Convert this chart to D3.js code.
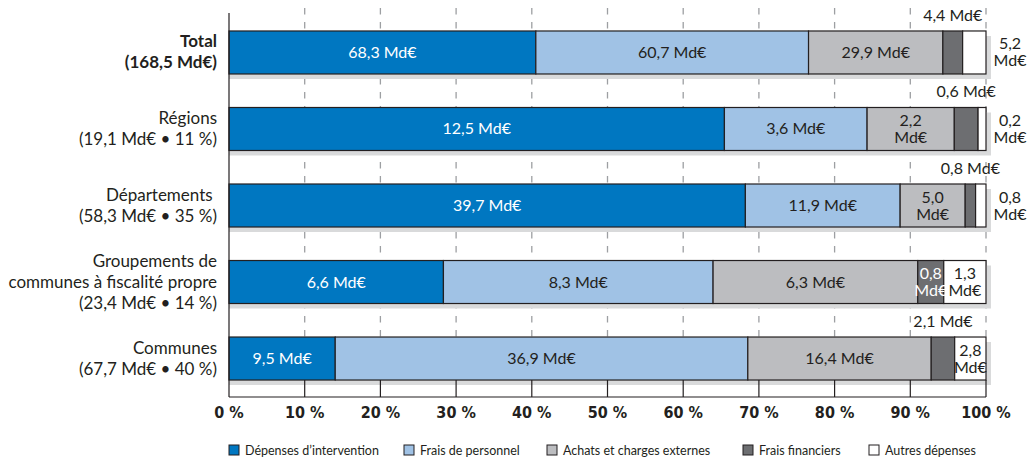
<!DOCTYPE html>
<html><head><meta charset="utf-8">
<script src="https://cdn.jsdelivr.net/npm/d3@7"></script>
<style>body{margin:0;background:#fff;} svg{display:block;}</style>
</head><body>
<div id="chart"></div>
<script>
// ---- data ----
const categories = ["Total", "Régions", "Départements", "Groupements", "Communes"];
const categoryLabels = [
  ["Total", "(168,5 Md€)"],
  ["Régions", "(19,1 Md€ • 11 %)"],
  ["Départements ", "(58,3 Md€ • 35 %)"],
  ["Groupements de", "communes à fiscalité propre", "(23,4 Md€ • 14 %)"],
  ["Communes", "(67,7 Md€ • 40 %)"]
];
const seriesNames = ["Dépenses d’intervention", "Frais de personnel", "Achats et charges externes", "Frais financiers", "Autres dépenses"];
const depensesIntervention = [68.3, 12.5, 39.7, 6.6, 9.5];
const fraisPersonnel = [60.7, 3.6, 11.9, 8.3, 36.9];
const achatsCharges = [29.9, 2.2, 5.0, 6.3, 16.4];
const fraisFinanciers = [4.4, 0.6, 0.8, 0.8, 2.1];
const autresDepenses = [5.2, 0.2, 0.8, 1.3, 2.8];
const tickLabels = ["0 %", "10 %", "20 %", "30 %", "40 %", "50 %", "60 %", "70 %", "80 %", "90 %", "100 %"];
// label placement per row/segment: in = one line inside, in2 = two lines inside, above, right
const labelModes = [
  ["in", "in", "in", "above", "right"],
  ["in", "in", "in2", "above", "right"],
  ["in", "in", "in2", "above", "right"],
  ["in", "in", "in", "in2", "in2"],
  ["in", "in", "in", "above", "in2"]
];

// ---- styles ----
const colors = ["#0077c1", "#a0c2e5", "#bcbdc0", "#6d6e71", "#ffffff"];
const textColors = ["#ffffff", "#231f20", "#231f20", "#ffffff", "#231f20"];
const W = 1035, H = 458;
const svg = d3.select("#chart").append("svg").attr("width", W).attr("height", H);
const FONT = "Lato, 'Open Sans', sans-serif";
const NARROW = "'Liberation Sans Narrow', 'DejaVu Sans Condensed', 'DejaVu Sans', sans-serif";

const allSeries = [depensesIntervention, fraisPersonnel, achatsCharges, fraisFinanciers, autresDepenses];
const rows = categories.map((c, i) => {
  const vals = allSeries.map(s => s[i]);
  const tot = d3.sum(vals);
  let acc = 0;
  const segs = vals.map((v, j) => {
    const s = {row: i, k: j, v, x0: acc / tot, x1: (acc + v) / tot};
    acc += v;
    return s;
  });
  return {c, i, segs};
});

const x = d3.scaleLinear().domain([0, 1]).range([229, 986]);
const y = d3.scaleBand().domain(categories).range([14, 397]).paddingInner(0.438).paddingOuter(0.222);
const bw = y.bandwidth();

// gridlines (dashed)
svg.append("g").selectAll("line").data(d3.range(1, 11).map(d => d / 10)).join("line")
  .attr("x1", d => x(d)).attr("x2", d => x(d))
  .attr("y1", 8).attr("y2", 380)
  .attr("stroke", "#9d9fa2").attr("stroke-width", 1.3)
  .attr("stroke-dasharray", "6.5,7.5");

// shadows
svg.append("g").selectAll("rect").data(rows).join("rect")
  .attr("x", x(0)).attr("y", d => y(d.c) + 5)
  .attr("width", x(1) - x(0) + 5).attr("height", bw)
  .attr("fill", "#d9dadb");

// bars
const g = svg.append("g");
rows.forEach(r => {
  g.selectAll(null).data(r.segs).join("rect")
    .attr("x", d => x(d.x0)).attr("y", y(r.c))
    .attr("width", d => x(d.x1) - x(d.x0)).attr("height", bw)
    .attr("fill", d => colors[d.k])
    .attr("stroke", "#231f20").attr("stroke-width", 1.2);
});

// bottom axis
const axisY = 397;
svg.append("line").attr("x1", x(0)).attr("x2", x(1)).attr("y1", axisY).attr("y2", axisY)
  .attr("stroke", "#231f20").attr("stroke-width", 1.2);
svg.append("g").selectAll("line").data(d3.range(1, 11).map(d => d / 10)).join("line")
  .attr("x1", d => x(d)).attr("x2", d => x(d)).attr("y1", 380).attr("y2", axisY)
  .attr("stroke", "#231f20").attr("stroke-width", 1.2);
// left axis
svg.append("line").attr("x1", x(0)).attr("x2", x(0)).attr("y1", 13).attr("y2", axisY)
  .attr("stroke", "#231f20").attr("stroke-width", 1.2);

// tick labels
svg.append("g").selectAll("text").data(tickLabels).join("text")
  .attr("x", (d, i) => x(i / 10)).attr("y", 418)
  .attr("text-anchor", "middle")
  .attr("font-family", NARROW).attr("font-weight", "bold").attr("font-size", 16)
  .attr("fill", "#231f20").text(d => d);

// category labels
categoryLabels.forEach((lines, i) => {
  const cy = y(categories[i]) + bw / 2;
  const lh = 21;
  const t = svg.append("text").attr("text-anchor", "end")
    .attr("font-family", FONT).attr("font-size", 17).attr("fill", "#231f20")
    .attr("font-weight", i === 0 ? "bold" : "normal");
  lines.forEach((l, j) => {
    t.append("tspan").attr("x", 217)
      .attr("y", cy + (j - (lines.length - 1) / 2) * lh + 5.5)
      .attr("xml:space", "preserve")
      .text(l);
  });
});

// value labels
const fmt = v => d3.format(".1f")(v).replace(".", ",");
rows.forEach(r => {
  const top = y(r.c), cy = top + bw / 2;
  r.segs.forEach(s => {
    const mode = labelModes[r.i][s.k];
    const cx = (x(s.x0) + x(s.x1)) / 2;
    const t = svg.append("text").attr("font-family", FONT).attr("font-size", 16)
      .attr("text-anchor", "middle");
    if (mode === "in") {
      t.attr("x", cx).attr("y", cy + 5.5).attr("fill", textColors[s.k]).text(fmt(s.v) + " Md€");
    } else if (mode === "in2") {
      t.attr("fill", textColors[s.k]);
      t.append("tspan").attr("x", cx).attr("y", cy - 3).text(fmt(s.v));
      t.append("tspan").attr("x", cx).attr("y", cy + 14).text("Md€");
    } else if (mode === "above") {
      t.attr("x", cx).attr("y", top - 10).attr("fill", "#231f20").text(fmt(s.v) + " Md€");
    } else if (mode === "right") {
      const rx = x(1) + 24;
      t.attr("fill", "#231f20");
      t.append("tspan").attr("x", rx).attr("y", cy - 3).text(fmt(s.v));
      t.append("tspan").attr("x", rx).attr("y", cy + 14).text("Md€");
    }
  });
});

// legend
const legendX = [229, 404, 547, 743, 869];
const lg = svg.append("g").selectAll("g").data(seriesNames).join("g")
  .attr("transform", (d, i) => `translate(${legendX[i]},445)`);
lg.append("rect").attr("width", 10).attr("height", 10)
  .attr("fill", (d, i) => colors[i]).attr("stroke", "#231f20").attr("stroke-width", 1);
lg.append("text").attr("x", 16).attr("y", 10)
  .attr("font-family", FONT).attr("font-size", 12.5).attr("fill", "#231f20").text(d => d);
</script>
</body></html>
